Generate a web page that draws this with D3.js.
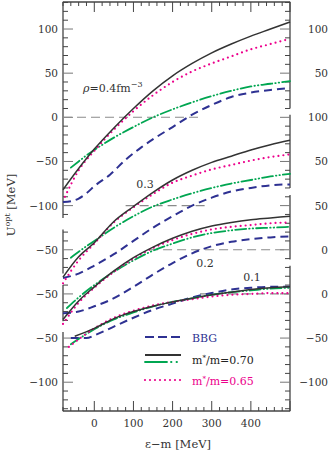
<!DOCTYPE html>
<html lang="en">
<head>
<meta charset="utf-8">
<title>D3: U opt</title>
<script src="https://cdn.jsdelivr.net/npm/d3@7"></script>
<style>
  body { margin: 0; background: #fff; }
  svg text { font-family: "DejaVu Serif", serif; fill: #333; }
</style>
</head>
<body>
<script>

// [epsilon - m (MeV), U_opt (MeV)], one array per curve
var bbg04 = [[-80,-96],[-60,-95],[-40,-92],[-20,-86],[0,-78],[40,-65],[80,-48],[120,-34],[160,-22],[200,-11],[250,3],[300,14],[350,23],[400,28],[450,31],[500,33]];
var m70_04 = [[-80,-82],[-40,-58],[0,-36],[50,-12],[100,10],[150,30],[200,47],[250,61],[300,73],[350,83],[400,92],[450,100],[500,108]];
var grn04 = [[-60,-57],[-40,-50],[-20,-43],[0,-37],[50,-23],[100,-11],[150,0],[200,9],[250,17],[300,24],[350,30],[400,35],[450,38],[500,41]];
var m65_04 = [[-75,-90],[-40,-60],[0,-38],[50,-14],[100,7],[150,25],[200,40],[250,52],[300,61],[350,69],[400,77],[450,83],[500,89]];

var bbg03 = [[-80,-82],[-40,-77],[0,-68],[50,-55],[100,-40],[150,-25],[200,-12],[250,0],[300,9],[350,16],[400,20],[450,23],[500,24]];
var m70_03 = [[-80,-81],[-40,-58],[0,-42],[50,-18],[100,-1],[150,15],[200,29],[250,40],[300,49],[350,56],[400,63],[450,69],[500,74]];
var grn03 = [[-60,-59],[-20,-46],[0,-40],[50,-25],[100,-12],[150,-1],[200,7],[250,14],[300,20],[350,25],[400,29],[450,33],[500,36]];
var m65_03 = [[-80,-88],[-40,-62],[0,-43],[50,-19],[100,-2],[150,13],[200,26],[250,34],[300,41],[350,46],[400,51],[450,55],[500,58]];

var bbg02 = [[-80,-72],[-40,-70],[0,-64],[40,-57],[100,-42],[150,-28],[200,-15],[250,-4],[300,4],[350,9],[400,12],[450,14],[500,15]];
var m70_02 = [[-80,-79],[-40,-58],[0,-42],[50,-24],[100,-9],[150,3],[200,13],[250,21],[300,27],[350,31],[400,34],[450,36],[500,38]];
var grn02 = [[-70,-66],[-40,-54],[0,-40],[50,-25],[100,-12],[150,-1],[200,7],[250,14],[300,19],[350,22],[400,24],[450,25],[500,26]];
var m65_02 = [[-80,-84],[-40,-60],[0,-43],[50,-25],[100,-10],[150,2],[200,11],[250,18],[300,23],[350,26],[400,28],[450,30],[500,31]];

var bbg01 = [[-60,-50],[-20,-50],[0,-47],[50,-37],[100,-27],[150,-18],[200,-11],[250,-4],[300,1],[350,5],[400,7],[450,8],[500,8]];
var m70_01 = [[-50,-48],[0,-39],[50,-28],[100,-20],[150,-14],[200,-9],[250,-5],[300,-1],[350,2],[400,5],[450,7],[500,8]];
var grn01 = [[-60,-57],[0,-40],[50,-29],[100,-21],[150,-14],[200,-9],[250,-5],[300,-1],[350,2],[400,4],[450,6],[500,7]];
var m65_01 = [[-65,-60],[0,-39],[50,-27],[100,-19],[150,-13],[200,-9],[250,-6],[300,-3],[350,-1],[400,0],[450,1],[500,1]];

// densities, their vertical shift in the stacked plot, and where the dashed zero line runs
var densities = ["0.4", "0.3", "0.2", "0.1"];
var shifts = [0, -100, -150, -200];
var zeroLines = [[-80, 265], [80, 290], [140, 500], [270, 500]];

// tick labels on each axis, per density
var leftLabels = [[100, 50, 0, -50, -100], [-50], [-50], [-50, -100]];
var rightLabels = [[100, 50], [100, 50], [50, 0], [0, -50, -100]];
// extent of each broken piece of the side axes (local units)
var leftSegs = [[-114, 131], [-77, -27], [-81, -40], [-133, -43]];
var rightSegs = [[10, 131], [20, 103], [-11, 62], [-133, 32]];

var xTicks = [0, 100, 200, 300, 400];

var w = 330, h = 451;
var pL = 63, pR = 290, pT = 2, pB = 411;

var xScale = d3.scaleLinear().domain([-80, 500]).range([pL, pR]);
var yScale = d3.scaleLinear().domain([-332.6, 130.6]).range([pB, pT]);

var svg = d3.select("body").append("svg")
  .attr("width", w).attr("height", h);

var axisColor = "#444";

// top and bottom frame with ticks
[pT, pB].forEach(function(yy, i) {
  svg.append("line").attr("x1", pL).attr("x2", pR)
    .attr("y1", yy).attr("y2", yy)
    .attr("stroke", axisColor).attr("stroke-width", 1.3);
  var dir = i == 0 ? 1 : -1;
  d3.range(-80, 501, 20).forEach(function(v) {
    var major = v % 100 == 0;
    svg.append("line")
      .attr("x1", xScale(v)).attr("x2", xScale(v))
      .attr("y1", yy).attr("y2", yy + dir * (major ? 10 : 4))
      .attr("stroke", axisColor).attr("stroke-width", 1);
  });
});

svg.selectAll("text.xt").data(xTicks).enter().append("text")
  .attr("class", "xt")
  .attr("x", function(d) { return xScale(d); })
  .attr("y", 427)
  .attr("text-anchor", "middle")
  .attr("font-size", "10.5px")
  .text(function(d) { return d; });

function fmt(v) { return v < 0 ? "\u2212" + (-v) : "" + v; }

// broken side axes
function sideAxis(xPos, dir, segs, labels, anchorX, anchor) {
  segs.forEach(function(seg, i) {
    var s = shifts[i];
    svg.append("line").attr("x1", xPos).attr("x2", xPos)
      .attr("y1", yScale(seg[0] + s)).attr("y2", yScale(seg[1] + s))
      .attr("stroke", axisColor).attr("stroke-width", 1.3);
    var first = Math.ceil(seg[0] / 10) * 10;
    d3.range(first, seg[1] + 0.1, 10).forEach(function(v) {
      var major = v % 50 == 0;
      svg.append("line")
        .attr("x1", xPos).attr("x2", xPos + dir * (major ? 10 : 5))
        .attr("y1", yScale(v + s)).attr("y2", yScale(v + s))
        .attr("stroke", major ? "#777" : axisColor).attr("stroke-width", 1);
    });
    labels[i].forEach(function(v) {
      svg.append("text")
        .attr("x", anchorX).attr("y", yScale(v + s) + 4)
        .attr("text-anchor", anchor)
        .attr("font-size", "10.5px")
        .text(fmt(v));
    });
  });
}
sideAxis(pL, 1, leftSegs, leftLabels, 58, "end");
sideAxis(pR, -1, rightSegs, rightLabels, 328, "end");

// dashed zero lines
zeroLines.forEach(function(z, i) {
  svg.append("line")
    .attr("x1", xScale(z[0])).attr("x2", xScale(z[1]))
    .attr("y1", yScale(shifts[i])).attr("y2", yScale(shifts[i]))
    .attr("stroke", "#8a8a8a").attr("stroke-width", 1.1)
    .attr("stroke-dasharray", "9,5");
});

var styles = {
  bbg: { color: "#2e3192", width: 2, dash: "8,5", cap: "butt" },
  m70: { color: "#333333", width: 1.5, dash: null, cap: "butt" },
  grn: { color: "#00a651", width: 1.8, dash: "11,3,0.5,3,0.5,3", cap: "round" },
  m65: { color: "#ec008c", width: 2.2, dash: "0,5", cap: "round" }
};

var curves = [
  [bbg04, "bbg", 0], [grn04, "grn", 0], [m65_04, "m65", 0], [m70_04, "m70", 0],
  [bbg03, "bbg", 1], [grn03, "grn", 1], [m65_03, "m65", 1], [m70_03, "m70", 1],
  [bbg02, "bbg", 2], [grn02, "grn", 2], [m65_02, "m65", 2], [m70_02, "m70", 2],
  [bbg01, "bbg", 3], [grn01, "grn", 3], [m65_01, "m65", 3], [m70_01, "m70", 3]
];

curves.forEach(function(c) {
  var s = shifts[c[2]];
  var st = styles[c[1]];
  var line = d3.line()
    .x(function(d) { return xScale(d[0]); })
    .y(function(d) { return yScale(d[1] + s); })
    .curve(d3.curveMonotoneX);
  svg.append("path")
    .attr("d", line(c[0]))
    .attr("fill", "none")
    .attr("stroke", st.color)
    .attr("stroke-width", st.width)
    .attr("stroke-dasharray", st.dash)
    .attr("stroke-linecap", st.cap);
});

// density labels
var rhoLabel = svg.append("text").attr("x", 83).attr("y", 92).attr("font-size", "11px");
rhoLabel.append("tspan").attr("font-style", "italic").text("\u03c1");
rhoLabel.append("tspan").text("=0.4fm");
rhoLabel.append("tspan").attr("dy", -5).attr("font-size", "8px").text("\u22123");

var otherLabels = [["0.3", 145, 188], ["0.2", 205, 267], ["0.1", 252, 281]];
otherLabels.forEach(function(l) {
  svg.append("text").attr("x", l[1]).attr("y", l[2])
    .attr("text-anchor", "middle").attr("font-size", "11px").text(l[0]);
});

// legend
var lx0 = 145, lx1 = 181;
svg.append("line").attr("x1", lx0).attr("x2", lx1).attr("y1", 337).attr("y2", 337)
  .attr("stroke", styles.bbg.color).attr("stroke-width", 2).attr("stroke-dasharray", "9,4");
svg.append("line").attr("x1", lx0).attr("x2", lx1).attr("y1", 355).attr("y2", 355)
  .attr("stroke", styles.m70.color).attr("stroke-width", 1.8);
svg.append("line").attr("x1", lx0).attr("x2", lx1).attr("y1", 362).attr("y2", 362)
  .attr("stroke", styles.grn.color).attr("stroke-width", 1.8)
  .attr("stroke-dasharray", "22,4,0.5,5,0.5,20").attr("stroke-linecap", "round");
svg.append("line").attr("x1", lx0).attr("x2", lx1).attr("y1", 380).attr("y2", 380)
  .attr("stroke", styles.m65.color).attr("stroke-width", 2.2)
  .attr("stroke-dasharray", "0,5").attr("stroke-linecap", "round");

svg.append("text").attr("x", 192).attr("y", 342).attr("font-size", "11px")
  .style("fill", styles.bbg.color).text("BBG");
function mLabel(y, val, color) {
  var t = svg.append("text").attr("x", 192).attr("y", y).attr("font-size", "11px").style("fill", color);
  t.append("tspan").text("m");
  t.append("tspan").attr("dy", -4).attr("font-size", "7px").text("*");
  t.append("tspan").attr("dy", 4).text("/m=" + val);
}
mLabel(364, "0.70", "#222");
mLabel(385, "0.65", styles.m65.color);

// axis titles
svg.append("text").attr("x", 178).attr("y", 448)
  .attr("text-anchor", "middle").attr("font-size", "11.5px")
  .text("\u03b5\u2212m  [MeV]");

var yl = svg.append("text")
  .attr("transform", "translate(15,205) rotate(-90)")
  .attr("text-anchor", "middle").attr("font-size", "11.5px");
yl.append("tspan").text("U");
yl.append("tspan").attr("dy", -5).attr("font-size", "8px").text("opt");
yl.append("tspan").attr("dy", 5).text(" [MeV]");

</script>
</body>
</html>
